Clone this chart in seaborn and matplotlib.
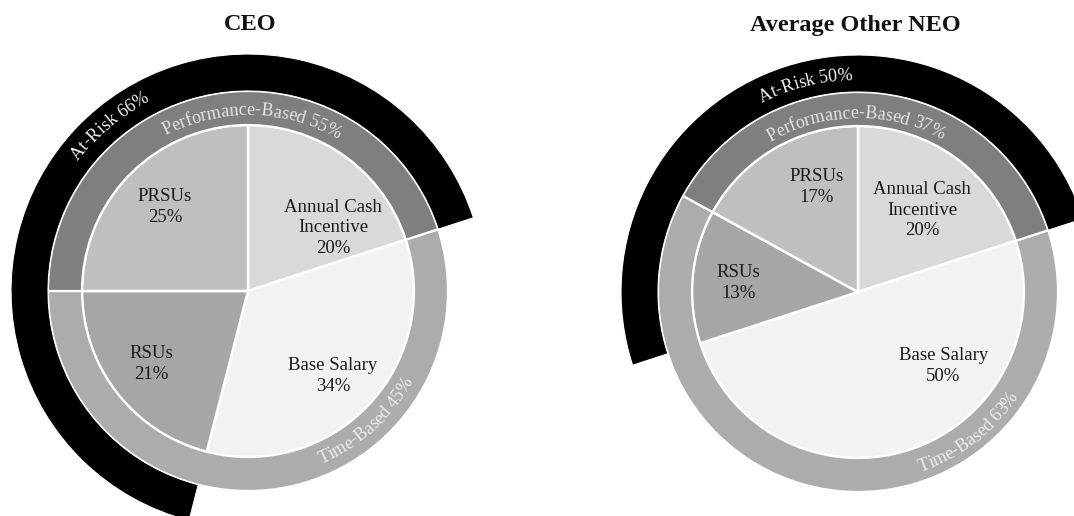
import numpy as np
import matplotlib
matplotlib.use("Agg")
import matplotlib.pyplot as plt
import seaborn as sns
from matplotlib import font_manager
try:
    from matplotlib.ft2font import LoadFlags
    NOHINT = LoadFlags.NO_HINTING
except ImportError:
    from matplotlib.ft2font import LOAD_NO_HINTING as NOHINT

# ---------------- data ----------------
titles = ["CEO", "Average Other NEO"]
components = ["Annual Cash\nIncentive", "Base Salary", "RSUs", "PRSUs"]
ceo_values = [20, 34, 21, 25]
neo_values = [20, 50, 13, 17]
ceo_ring_text = ["Performance-Based 55%", "Time-Based 45%", "At-Risk 66%"]
neo_ring_text = ["Performance-Based 37%", "Time-Based 63%", "At-Risk 50%"]
ceo_at_risk = 66
neo_at_risk = 50

# ---------------- style / layout ----------------
inner_colors = ["#d9d9d9", "#f2f2f2", "#a6a6a6", "#bfbfbf"]
perf_color = "#7f7f7f"
time_color = "#aeabab"
risk_color = "#000000"
SERIF = "Liberation Serif"

sns.set_theme(style="white")
plt.rcParams["font.family"] = [SERIF, "DejaVu Serif"]

W, H = 1074, 516
fig = plt.figure(figsize=(W / 100, H / 100), dpi=100)
ax = fig.add_axes([0, 0, 1, 1])

R_IN, R_MID, R_OUT = 166, 200, 237

# per-chart layout: center (px, data y up), inner label polar offsets, ring text placement
layouts = [
    dict(center=(248, H - 291), title_xy=(250, H - 24),
         label_pos=[(106, 36.5), (120, -45), (121, -142.7), (118, 134.7)],
         ring_pos=[(88.7, 182, True), (-47.8, 182, False), (129.9, 220, True)]),
    dict(center=(858, H - 292), title_xy=(855, H - 26),
         label_pos=[(104, 52), (113, -41), (120, 175.7), (113, 111.3)],
         ring_pos=[(90.7, 180, True), (-51.9, 185, False), (104.2, 218, True)]),
]


def char_adv_px(ch, prop):
    font = font_manager.get_font(font_manager.findfont(prop))
    font.set_size(prop.get_size_in_points(), 100)
    g = font.load_char(ord(ch), flags=NOHINT)
    return g.linearHoriAdvance / 65536


def curved_text(ax, s, cx, cy, r, mid_deg, size, color, top=True):
    prop = font_manager.FontProperties(family=SERIF, size=size)
    advs = [char_adv_px(c, prop) for c in s]
    L = sum(advs)
    px = size * 100 / 72
    off = 0.33 * px
    mid = np.radians(mid_deg)
    pos = 0.0
    for c, a in zip(s, advs):
        d = pos + a / 2
        if top:
            rb = r - off
            th = mid + (L / 2 - d) / rb
            rot = np.degrees(th) - 90
        else:
            rb = r + off
            th = mid - (L / 2 - d) / rb
            rot = np.degrees(th) + 90
        ax.text(cx + rb * np.cos(th), cy + rb * np.sin(th), c, rotation=rot,
                rotation_mode="anchor", ha="center", va="baseline",
                fontproperties=prop, color=color)
        pos += a


def draw_chart(ax, values, ring_text, at_risk, title, lay):
    annual, base, rsu, prsu = values
    cx, cy = lay["center"]
    start = 90 - 3.6 * annual

    # inner pie
    ax.pie(values, colors=inner_colors, radius=R_IN, center=(cx, cy),
           startangle=90, counterclock=False, frame=True,
           wedgeprops=dict(edgecolor="white", linewidth=1.8))

    # middle ring: time-based (base + RSUs), performance-based (PRSUs + annual)
    ax.pie([base + rsu, prsu + annual], colors=[time_color, perf_color],
           radius=R_MID, center=(cx, cy), startangle=start, counterclock=False,
           frame=True,
           wedgeprops=dict(width=R_MID - R_IN, edgecolor="white", linewidth=1.6))

    # outer ring: at-risk only
    w, _ = ax.pie([100 - at_risk, at_risk], colors=["white", risk_color],
                  radius=R_OUT, center=(cx, cy), startangle=start,
                  counterclock=False, frame=True,
                  wedgeprops=dict(width=R_OUT - R_MID, edgecolor="white",
                                  linewidth=0.8))
    w[0].set_visible(False)

    # inner labels
    for comp, v, (r, ang) in zip(components, values, lay["label_pos"]):
        t = np.radians(ang)
        ax.text(cx + r * np.cos(t), cy + r * np.sin(t), f"{comp}\n{v}%",
                ha="center", va="center", fontsize=13.5, color="#1a1a1a",
                family=SERIF, linespacing=1.3)

    # ring labels
    ring_colors = ["#e4e4e4", "#ececec", "#f2f2f2"]
    for txt, (mid, r, top), col in zip(ring_text, lay["ring_pos"], ring_colors):
        curved_text(ax, txt, cx, cy, r, mid, 13, col, top=top)

    ax.text(*lay["title_xy"], title, ha="center", va="center", fontsize=17.5,
            fontweight="bold", family=SERIF, color="#111111")


draw_chart(ax, ceo_values, ceo_ring_text, ceo_at_risk, titles[0], layouts[0])
draw_chart(ax, neo_values, neo_ring_text, neo_at_risk, titles[1], layouts[1])

ax.set_xlim(0, W)
ax.set_ylim(0, H)
ax.set_aspect("equal")
ax.axis("off")

fig.savefig("out.png", dpi=100, facecolor="white")
